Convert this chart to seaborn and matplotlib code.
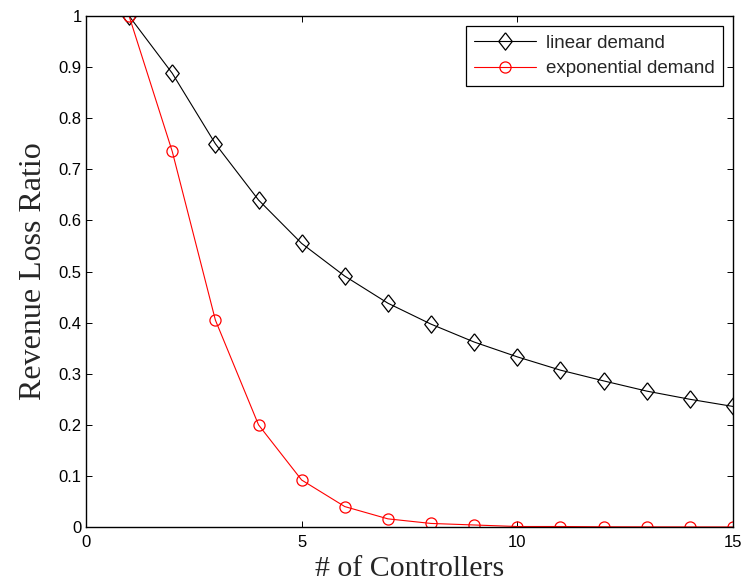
import numpy as np
import pandas as pd
import matplotlib
matplotlib.use('Agg')
import matplotlib.pyplot as plt
import seaborn as sns

controllers = list(range(1, 16))
linear_demand = [1.0, 0.888, 0.75, 0.64, 0.555, 0.491, 0.438, 0.397, 0.362,
                 0.333, 0.307, 0.286, 0.266, 0.25, 0.236]
exp_demand = [1.0, 0.735, 0.405, 0.2, 0.092, 0.04, 0.016, 0.007, 0.004,
              0.001, 0.001, 0.0005, 0.0003, 0.0002, 0.0001]

df = pd.DataFrame({
    'controllers': controllers * 2,
    'ratio': linear_demand + exp_demand,
    'series': ['linear demand'] * 15 + ['exponential demand'] * 15,
})

# matlab-like diamond, a bit taller than wide
diamond = [(0, 1), (0.78, 0), (0, -1), (-0.78, 0), (0, 1)]

sns.set_style('ticks')
plt.rcParams['font.family'] = ['Liberation Sans', 'DejaVu Sans']
plt.rcParams['xtick.direction'] = 'in'
plt.rcParams['ytick.direction'] = 'in'

fig = plt.figure(figsize=(7.45, 5.85), dpi=100)
ax = fig.add_axes([0.1154, 0.0991, 0.8685, 0.8735])

sns.lineplot(data=df, x='controllers', y='ratio', hue='series', style='series',
             palette={'linear demand': 'black', 'exponential demand': 'red'},
             markers={'linear demand': diamond, 'exponential demand': 'o'},
             dashes=False, ax=ax, linewidth=0.8)

def style_line(line):
    line.set_markerfacecolor('none')
    line.set_markeredgecolor(line.get_color())
    line.set_markeredgewidth(0.9)
    line.set_linewidth(0.8)
    if line.get_color() in ('black', 'k') or line.get_label() == 'linear demand':
        line.set_markersize(12.5)
    else:
        line.set_markersize(8)

for line in ax.lines:
    style_line(line)

ax.set_xlim(0, 15)
ax.set_ylim(0, 1)
ax.set_xticks([0, 5, 10, 15])
ax.set_yticks(np.arange(0, 1.01, 0.1))
ax.set_yticklabels(['0', '0.1', '0.2', '0.3', '0.4', '0.5', '0.6', '0.7', '0.8', '0.9', '1'])
ax.tick_params(axis='both', which='both', top=True, right=True, length=4,
               width=0.7, labelsize=12, colors='black')
ax.tick_params(axis='x', pad=6)
ax.tick_params(axis='y', pad=3)
for s in ax.spines.values():
    s.set_linewidth(1.0)
    s.set_color('black')

ax.set_xlabel('# of Controllers', family='Liberation Serif', fontsize=21.5, labelpad=4)
ax.set_ylabel('Revenue Loss Ratio', family='Liberation Serif', fontsize=23, labelpad=8)

handles, labels = ax.get_legend_handles_labels()
for h in handles:
    style_line(h)
leg = ax.legend(handles, labels, loc='upper right', fontsize=13.5, frameon=True,
                fancybox=False, edgecolor='black', framealpha=1,
                borderaxespad=0.55, handlelength=3.3, handletextpad=0.5,
                borderpad=0.45, labelspacing=0.45)
leg.get_frame().set_linewidth(0.9)

fig.savefig('out.png', dpi=100)
